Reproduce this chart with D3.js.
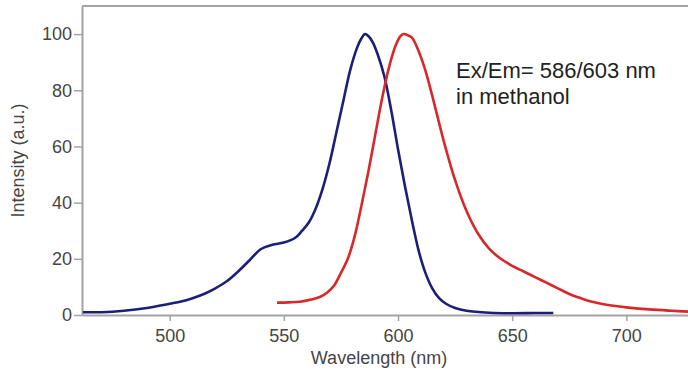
<!DOCTYPE html>
<html>
<head>
<meta charset="utf-8">
<script src="https://cdn.jsdelivr.net/npm/d3@7"></script>
<style>
	body { margin: 0; background: #fff; }
	text { font-family: "Liberation Sans", Arial, sans-serif; }
</style>
</head>
<body>
<div id="chart"></div>
<script>
// excitation spectrum (blue)
const exWavelength = [462, 470, 480, 490, 500, 505, 510, 515, 520, 525, 530, 535, 540, 545, 550, 555, 558, 561, 564, 567, 570, 573, 576, 579, 582, 584, 585.5, 587, 589, 591, 594, 597, 600, 603, 606, 609, 612, 615, 618, 621, 625, 630, 640, 650, 660, 668]
const exIntensity = [1, 1, 1.5, 2.5, 4, 4.8, 6, 7.5, 9.5, 12, 15.5, 19.5, 23.5, 25, 25.8, 27.5, 30, 33, 38, 45, 54, 65, 76, 87, 95, 98.5, 100, 99.3, 97, 93, 85, 73, 59, 46, 34, 23, 15, 9.5, 6, 4, 2.5, 1.5, 0.8, 0.6, 0.7, 0.7]

// emission spectrum (red)
const emWavelength = [547, 552, 557, 562, 566, 569, 572, 575, 578, 581, 584, 587, 590, 593, 596, 599, 601, 602.5, 604, 606, 609, 612, 615, 620, 625, 630, 635, 640, 645, 650, 655, 660, 665, 670, 675, 680, 685, 690, 700, 710, 720, 727]
const emIntensity = [4.4, 4.5, 4.7, 5.5, 6.5, 8, 10.5, 15, 20, 28, 39, 51, 64, 77, 88, 96, 99.2, 100, 99.7, 98.8, 94, 87, 78, 62, 48, 37, 29, 23.5, 20, 17.5, 15.5, 13.5, 11.5, 9.5, 7.5, 6, 4.7, 3.8, 2.7, 2, 1.5, 1.2]

const xTicks = [500, 550, 600, 650, 700]
const yTicks = [0, 20, 40, 60, 80, 100]
const noteLines = ["Ex/Em= 586/603 nm", "in methanol"]

const width = 688
const height = 372
const margin = { top: 6, right: 0, bottom: 57, left: 82 }

const svg = d3.select("#chart").append("svg").attr("width", width).attr("height", height)

const x = d3.scaleLinear().domain([461.6, 727]).range([margin.left, width - margin.right])
const y = d3.scaleLinear().domain([0, 110]).range([height - margin.bottom, margin.top])

const axisColor = "#a3a3a3"
const labelColor = "#454545"

// frame: top border
svg.append("line")
	.attr("x1", margin.left)
	.attr("x2", width)
	.attr("y1", margin.top)
	.attr("y2", margin.top)
	.attr("stroke", axisColor)
	.attr("stroke-width", 2)

const gx = svg.append("g")
	.attr("transform", `translate(0,${height - margin.bottom})`)
	.call(d3.axisBottom(x).tickValues(xTicks).tickSize(6).tickPadding(8).tickSizeOuter(0))
gx.select(".domain").attr("stroke", axisColor).attr("stroke-width", 2)
gx.selectAll(".tick line").attr("stroke", axisColor).attr("stroke-width", 1.5)
gx.selectAll(".tick text").attr("fill", labelColor).attr("font-size", 18)

const gy = svg.append("g")
	.attr("transform", `translate(${margin.left},0)`)
	.call(d3.axisLeft(y).tickValues(yTicks).tickSize(8).tickPadding(2).tickSizeOuter(0))
gy.select(".domain").attr("stroke", axisColor).attr("stroke-width", 2)
gy.selectAll(".tick line").attr("stroke", axisColor).attr("stroke-width", 1.5)
gy.selectAll(".tick text").attr("fill", labelColor).attr("font-size", 18)

svg.append("text")
	.attr("x", (x(461.6) + x(727)) / 2 - 6)
	.attr("y", 364)
	.attr("text-anchor", "middle")
	.attr("fill", labelColor)
	.attr("font-size", 18)
	.text("Wavelength (nm)")

svg.append("text")
	.attr("transform", `translate(24,${(y(0) + y(110)) / 2}) rotate(-90)`)
	.attr("text-anchor", "middle")
	.attr("fill", labelColor)
	.attr("font-size", 18)
	.text("Intensity (a.u.)")

const line = d3.line()
	.curve(d3.curveCatmullRom.alpha(0.5))
	.x(d => x(d[0]))
	.y(d => y(d[1]))

svg.append("path")
	.datum(d3.zip(exWavelength, exIntensity))
	.attr("fill", "none")
	.attr("stroke", "#1c1f78")
	.attr("stroke-width", 2.6)
	.attr("stroke-linejoin", "round")
	.attr("d", line)

svg.append("path")
	.datum(d3.zip(emWavelength, emIntensity))
	.attr("fill", "none")
	.attr("stroke", "#d8282c")
	.attr("stroke-width", 2.6)
	.attr("stroke-linejoin", "round")
	.attr("d", line)

svg.append("g")
	.selectAll("text")
	.data(noteLines)
	.join("text")
	.attr("x", 456)
	.attr("y", (d, i) => 78 + i * 26)
	.attr("fill", "#222")
	.attr("font-size", 22)
	.text(d => d)
</script>
</body>
</html>
